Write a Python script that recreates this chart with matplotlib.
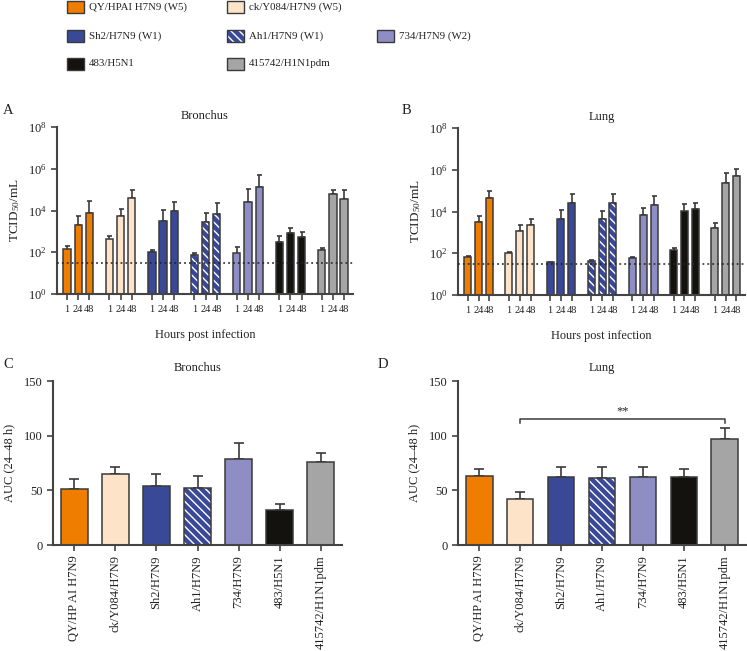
import matplotlib
matplotlib.use('Agg')
import matplotlib.pyplot as plt
import numpy as np
from matplotlib.patches import Rectangle
from matplotlib.ticker import FixedLocator, LogFormatterMathtext, NullLocator

plt.rcParams['font.family'] = ['Liberation Serif', 'DejaVu Serif']
plt.rcParams['mathtext.fontset'] = 'custom'
plt.rcParams['mathtext.rm'] = 'Liberation Serif'
plt.rcParams['mathtext.it'] = 'Liberation Serif:italic'
plt.rcParams['mathtext.bf'] = 'Liberation Serif:bold'
plt.rcParams['hatch.linewidth'] = 1.0

# ---------------- data ----------------
strains = ['QY/HP AI H7N9', 'ck/Y084/H7N9', 'Sh2/H7N9', 'Ah1/H7N9',
           '734/H7N9', '483/H5N1', '415742/H1N1pdm']
legend_labels = ['QY/HPAI H7N9 (W5)', 'ck/Y084/H7N9 (W5)', 'Sh2/H7N9 (W1)',
                 'Ah1/H7N9 (W1)', '734/H7N9 (W2)', '483/H5N1', '415742/H1N1pdm']
hours = ['1', '24', '48']
colors = ['#EF7D00', '#FDE4C8', '#3A4898', '#3A4898', '#8F8EC4', '#13120E', '#A5A5A5']
hatched = [False, False, False, True, False, False, False]

# log10 TCID50/mL means and upper error-bar ends (1, 24, 48 h)
bronchus_mean = [[2.13, 3.31, 3.89], [2.61, 3.73, 4.62], [2.03, 3.50, 3.97],
                 [1.86, 3.47, 3.82], [1.94, 4.43, 5.12], [2.51, 2.91, 2.72],
                 [2.10, 4.77, 4.53]]
bronchus_upper = [[2.32, 3.76, 4.46], [2.77, 4.06, 4.96], [2.11, 4.03, 4.43],
                  [1.97, 3.90, 4.37], [2.26, 5.01, 5.70], [2.77, 3.15, 2.98],
                  [2.22, 4.98, 4.96]]
lung_mean = [[1.81, 3.50, 4.67], [2.03, 3.07, 3.34], [1.55, 3.66, 4.42],
             [1.60, 3.62, 4.40], [1.78, 3.81, 4.30], [2.13, 4.00, 4.10],
             [3.22, 5.36, 5.68]]
lung_upper = [[1.89, 3.79, 4.96], [2.08, 3.36, 3.63], [1.60, 4.06, 4.83],
              [1.68, 4.03, 4.86], [1.84, 4.19, 4.74], [2.27, 4.35, 4.43],
              [3.44, 5.86, 6.02]]
detection_limit = 30

auc_bronchus = [50.9, 64.6, 54.0, 51.8, 79.0, 32.0, 75.9]
auc_bronchus_upper = [60.7, 71.6, 65.2, 63.4, 93.0, 37.5, 83.8]
auc_lung = [63.1, 42.4, 62.2, 61.3, 62.5, 62.2, 97.3]
auc_lung_upper = [69.8, 48.8, 71.0, 71.6, 71.6, 69.8, 106.7]
sig_pair = (1, 6)
sig_label = '**'

# ---------------- layout ----------------
W, H = 747, 651
fig = plt.figure(figsize=(W / 100, H / 100), dpi=100)

def px_rect(l, t, r, b):
    return [l / W, 1 - b / H, (r - l) / W, (b - t) / H]

EDGE = '#3a3a3a'
SPINE = '#444444'
TXT = '#222222'

def style_axes(ax):
    for s in ['top', 'right']:
        ax.spines[s].set_visible(False)
    for s in ['left', 'bottom']:
        ax.spines[s].set_linewidth(1.5)
        ax.spines[s].set_color(SPINE)
    ax.tick_params(axis='both', color=SPINE, width=1.2, length=4, labelcolor=TXT)

def draw_bar(ax, x, h, color, hatch, width, bottom=None):
    kw = {} if bottom is None else {'bottom': bottom}
    if hatch:
        ax.bar(x, h, width, color=color, edgecolor='white', hatch='\\\\\\\\',
               linewidth=0, zorder=2, **kw)
        ax.bar(x, h, width, fill=False, edgecolor=EDGE, linewidth=1.1, zorder=3, **kw)
    else:
        ax.bar(x, h, width, color=color, edgecolor=EDGE, linewidth=1.1, zorder=2, **kw)

GROUP = 3.8

def titer_panel(ax, means, uppers, title):
    xs_all, lab_all = [], []
    for i in range(len(strains)):
        xs = np.array([i * GROUP + j for j in range(3)])
        m = 10 ** np.array(means[i])
        u = 10 ** np.array(uppers[i])
        draw_bar(ax, xs, m, colors[i], hatched[i], 0.65, bottom=1)
        ax.errorbar(xs, m, yerr=[np.zeros(3), u - m], fmt='none', ecolor=EDGE,
                    elinewidth=1.2, capsize=1.8, capthick=1.2, zorder=1)
        xs_all += list(xs)
        lab_all += hours
    ax.set_yscale('log')
    ax.set_ylim(1, 1e8)
    ax.set_xlim(-0.9, 25.6)
    ax.axhline(detection_limit, color=TXT, linestyle=(0, (1.2, 2.0)), linewidth=1.1, zorder=4)
    ax.yaxis.set_major_locator(FixedLocator([1, 1e2, 1e4, 1e6, 1e8]))
    ax.yaxis.set_major_formatter(LogFormatterMathtext())
    ax.yaxis.set_minor_locator(NullLocator())
    ax.set_xticks(xs_all)
    ax.set_xticklabels(lab_all, fontsize=7.5)
    ax.tick_params(axis='x', pad=4)
    ax.tick_params(axis='y', labelsize=9)
    style_axes(ax)
    ax.set_ylabel('TCID$_{50}$/mL', fontsize=9.5, labelpad=4, color=TXT)
    ax.set_xlabel('Hours post infection', fontsize=8.8, labelpad=11, color=TXT)
    ax.set_title(title, fontsize=9, pad=6, color=TXT)

def auc_panel(ax, vals, upper, title):
    xs = np.arange(len(strains))
    for i in range(len(strains)):
        draw_bar(ax, xs[i], vals[i], colors[i], hatched[i], 0.65)
    v = np.array(vals)
    u = np.array(upper)
    ax.errorbar(xs, v, yerr=[np.zeros(len(v)), u - v], fmt='none', ecolor=EDGE,
                elinewidth=1.2, capsize=3.6, capthick=1.2, zorder=1)
    ax.set_ylim(0, 150)
    ax.set_xlim(-0.52, 6.52)
    ax.set_yticks([0, 50, 100, 150])
    ax.set_xticks(xs)
    ax.set_xticklabels(strains, rotation=90, fontsize=9)
    ax.tick_params(axis='y', labelsize=9)
    style_axes(ax)
    ax.set_ylabel('AUC (24\u201348 h)', fontsize=9, labelpad=6, color=TXT)
    ax.set_title(title, fontsize=9, pad=7, color=TXT)

axA = fig.add_axes(px_rect(57, 127, 353, 294))
titer_panel(axA, bronchus_mean, bronchus_upper, 'Bronchus')
axB = fig.add_axes(px_rect(458, 128, 745, 295))
titer_panel(axB, lung_mean, lung_upper, 'Lung')
axC = fig.add_axes(px_rect(53, 381, 342, 545))
auc_panel(axC, auc_bronchus, auc_bronchus_upper, 'Bronchus')
axD = fig.add_axes(px_rect(458, 381, 746, 545))
auc_panel(axD, auc_lung, auc_lung_upper, 'Lung')

# significance bracket
a, b = sig_pair
axD.plot([a, a, b, b], [111.3, 115.2, 115.2, 111.3], color=EDGE, linewidth=1.1,
         clip_on=False)
axD.text((a + b) / 2, 116.5, sig_label, ha='center', va='bottom', fontsize=9, color=TXT)

# panel letters
for lab, x, y in [('A', 3, 111), ('B', 402, 111), ('C', 3, 365), ('D', 378, 365)]:
    fig.text(x / W, 1 - y / H, lab, fontsize=10.5, va='center', ha='left', color=TXT)

# legend
legend_pos = [(67, 7), (227, 7), (67, 36), (227, 36), (377, 36), (67, 64), (227, 64)]
pw, ph = 17, 12
for i, (x, y) in enumerate(legend_pos):
    r = (x / W, 1 - (y + ph / 2) / H)
    if hatched[i]:
        fig.add_artist(Rectangle(r, pw / W, ph / H, transform=fig.transFigure,
                                 facecolor=colors[i], edgecolor='white',
                                 hatch='\\\\\\\\', linewidth=0))
        fig.add_artist(Rectangle(r, pw / W, ph / H, transform=fig.transFigure,
                                 fill=False, edgecolor=EDGE, linewidth=1.0))
    else:
        fig.add_artist(Rectangle(r, pw / W, ph / H, transform=fig.transFigure,
                                 facecolor=colors[i], edgecolor=EDGE, linewidth=1.0))
    fig.text((x + 22) / W, 1 - y / H, legend_labels[i], fontsize=7.8,
             va='center', ha='left', color=TXT)

fig.savefig('out.png', dpi=100)
